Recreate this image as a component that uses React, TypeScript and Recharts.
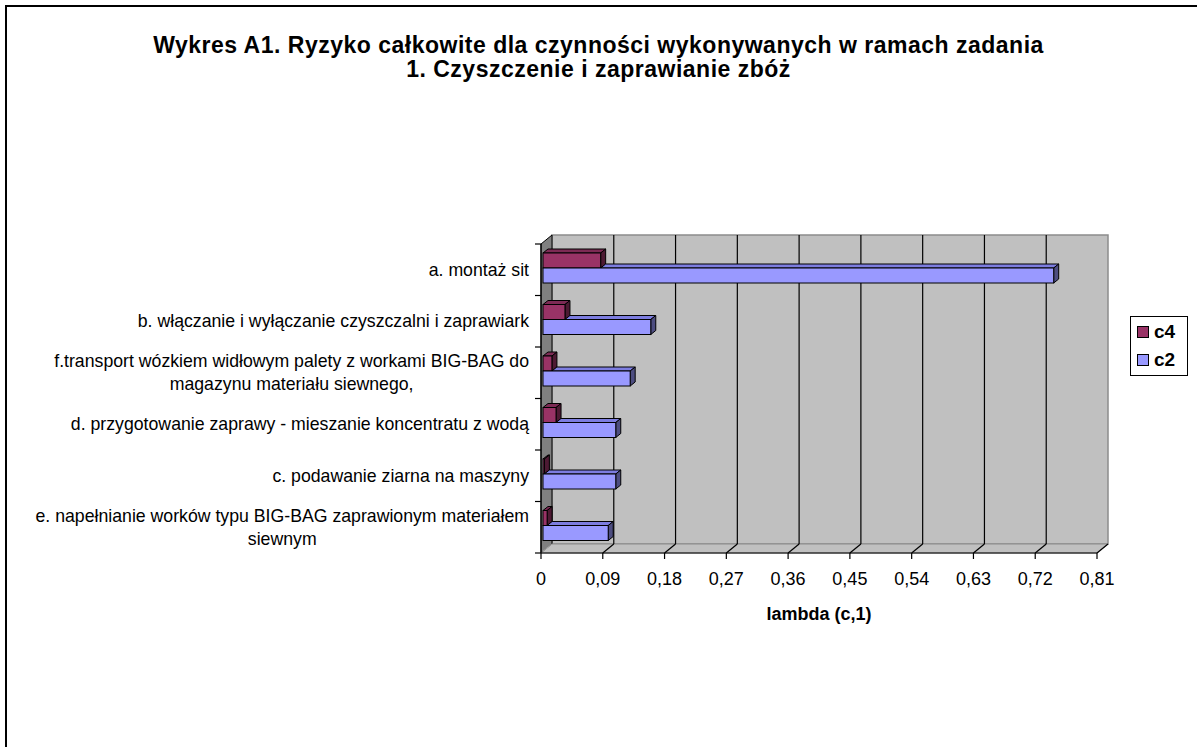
import React from 'react';
import { BarChart, Bar, XAxis, YAxis, ReferenceArea, Label } from 'recharts';

const categories = [
  'a. montaż sit',
  'b. włączanie i wyłączanie czyszczalni i zaprawiark',
  'f.transport wózkiem widłowym palety z workami BIG-BAG do\nmagazynu materiału siewnego,',
  'd. przygotowanie zaprawy - mieszanie koncentratu z wodą',
  'c. podawanie ziarna na maszyny',
  'e. napełnianie worków typu BIG-BAG zaprawionym materiałem\nsiewnym',
];
const c4Values = [0.084, 0.032, 0.013, 0.019, 0.002, 0.006];
const c2Values = [0.744, 0.157, 0.127, 0.106, 0.106, 0.095];
const xTicks = [0, 0.09, 0.18, 0.27, 0.36, 0.45, 0.54, 0.63, 0.72, 0.81];
const titleLines = [
  'Wykres A1. Ryzyko całkowite dla czynności wykonywanych w ramach zadania',
  '1. Czyszczenie i zaprawianie zbóż',
];
const axisTitle = 'lambda (c,1)';
const series = [
  { key: 'c4', name: 'c4', front: '#993366', top: '#7d2a54', side: '#4d1a33' },
  { key: 'c2', name: 'c2', front: '#9999ff', top: '#7d7de0', side: '#4d4d80' },
];

const data = categories.map((name, i) => ({ name, c4: c4Values[i], c2: c2Values[i] }));

const FONT = '"Liberation Sans", Arial, sans-serif';
const DX = 11;
const DY = 9;
const BDX = 5;
const BDY = 4;
const SHIFT_X = 2;
const SHIFT_Y = -2;
const X_MAX = xTicks[xTicks.length - 1];

const fmt = (v: number) => (v === 0 ? '0' : v.toFixed(2).replace('.', ','));

let measureCtx: CanvasRenderingContext2D | null = null;
const measure = (text: string, font: string) => {
  if (!measureCtx) {
    const c = document.createElement('canvas');
    measureCtx = c.getContext('2d');
  }
  if (!measureCtx) return text.length * 8;
  measureCtx.font = font;
  return measureCtx.measureText(text).width;
};

const CAT_SIZE = 17.7;

const CategoryTick = (props: any) => {
  const { x, y, payload } = props;
  const lines = String(payload.value).split('\n');
  if (lines.length === 1) {
    return (
      <text x={x} y={y} dy="0.35em" textAnchor="end" fontSize={CAT_SIZE} fontFamily={FONT} fill="#000">
        {lines[0]}
      </text>
    );
  }
  const widths = lines.map((l) => measure(l, `${CAT_SIZE}px "Liberation Sans"`));
  const maxW = Math.max(...widths);
  const cx = x - maxW / 2;
  const lh = 23;
  const start = y - ((lines.length - 1) * lh) / 2;
  return (
    <g>
      {lines.map((l, i) => (
        <text key={i} x={cx} y={start + i * lh} dy="0.35em" textAnchor="middle" fontSize={CAT_SIZE} fontFamily={FONT} fill="#000">
          {l}
        </text>
      ))}
    </g>
  );
};

const make3DBar = (key: string, front: string, top: string, side: string) => (props: any) => {
  const { x, y, width, height, payload } = props;
  if (height == null || width == null) return <g />;
  const w = Math.max(width, 0);
  const fx = x + SHIFT_X;
  const fy = y + SHIFT_Y;
  // the lower bar's top face is hidden behind the bar above it, up to where that bar ends
  let topStart = 0;
  if (key === 'c2' && payload && payload.c2 > 0) {
    topStart = Math.min(w, (w * payload.c4) / payload.c2);
  }
  return (
    <g>
      <polygon
        points={`${fx + topStart},${fy} ${fx + topStart + BDX},${fy - BDY} ${fx + w + BDX},${fy - BDY} ${fx + w},${fy}`}
        fill={top}
        stroke="#000"
        strokeWidth={1}
        strokeLinejoin="round"
      />
      <polygon
        points={`${fx + w},${fy} ${fx + w + BDX},${fy - BDY} ${fx + w + BDX},${fy + height - BDY} ${fx + w},${fy + height}`}
        fill={side}
        stroke="#000"
        strokeWidth={1}
        strokeLinejoin="round"
      />
      <rect x={fx} y={fy} width={w} height={height} fill={front} stroke="#000" strokeWidth={1} />
    </g>
  );
};

const Walls = (p: any) => {
  const { x, y, width, height } = p;
  const bottom = y + height;
  const right = x + width;
  const n = categories.length;
  const ticks = [];
  for (let i = 0; i <= n; i++) {
    const ty = y + (i * height) / n;
    ticks.push(<line key={`t${i}`} x1={x - 6} y1={ty} x2={x} y2={ty} stroke="#000" strokeWidth={1.2} />);
  }
  const grid = xTicks.map((t, i) => {
    const gx = x + (width * t) / X_MAX;
    return (
      <g key={`g${i}`}>
        {i !== 0 && i !== xTicks.length - 1 && (
          <line x1={gx + DX} y1={y - DY} x2={gx + DX} y2={bottom - DY} stroke="#000" strokeWidth={1.2} />
        )}
        {i !== 0 && <line x1={gx} y1={bottom} x2={gx + DX} y2={bottom - DY} stroke="#000" strokeWidth={1.2} />}
      </g>
    );
  });
  return (
    <g>
      <polygon
        points={`${x + DX},${y - DY} ${right + DX},${y - DY} ${right + DX},${bottom - DY} ${x + DX},${bottom - DY}`}
        fill="#c0c0c0"
        stroke="#8c8c8c"
        strokeWidth={1.5}
      />
      <polygon
        points={`${x},${y} ${x + DX},${y - DY} ${x + DX},${bottom - DY} ${x},${bottom}`}
        fill="#808080"
        stroke="#000"
        strokeWidth={1}
      />
      <polygon
        points={`${x},${bottom} ${x + DX},${bottom - DY} ${right + DX},${bottom - DY} ${right},${bottom}`}
        fill="#c0c0c0"
        stroke="#8c8c8c"
        strokeWidth={1}
      />
      <line x1={x + 2} y1={bottom - 2} x2={x + DX} y2={bottom - DY} stroke="#a0a0a0" strokeWidth={1} />
      {grid}
      {ticks}
    </g>
  );
};

export default function App() {
  return (
    <div
      style={{
        position: 'fixed',
        left: 0,
        top: 0,
        width: 1197,
        height: 747,
        overflow: 'hidden',
        background: '#fff',
      }}
    >
      <div
        style={{
          position: 'absolute',
          left: 5,
          top: 5,
          width: 1300,
          height: 900,
          borderLeft: '2px solid #000',
          borderTop: '2px solid #000',
        }}
      />
      <div
        style={{
          position: 'absolute',
          left: 0,
          top: 33,
          width: 1197,
          textAlign: 'center',
          fontFamily: FONT,
          fontWeight: 'bold',
          fontSize: 23,
          letterSpacing: '0.5px',
          lineHeight: '24px',
          color: '#000',
        }}
      >
        {titleLines.map((t, i) => (
          <div key={i}>{t}</div>
        ))}
      </div>
      <div style={{ position: 'absolute', left: 0, top: 0 }}>
        <BarChart
          width={1197}
          height={747}
          data={data}
          layout="vertical"
          margin={{ top: 244, right: 100, bottom: 114, left: 0 }}
          barGap={0}
          barSize={15}
        >
          <ReferenceArea x1={0} x2={X_MAX} shape={Walls} fill="none" stroke="none" ifOverflow="visible" />
          <XAxis
            type="number"
            domain={[0, X_MAX]}
            ticks={xTicks}
            tickFormatter={fmt}
            axisLine={{ stroke: '#000', strokeWidth: 1.2 }}
            tickLine={{ stroke: '#000', strokeWidth: 1.2 }}
            tickSize={6}
            tickMargin={13}
            height={80}
            tick={{ fontSize: 18, fontFamily: FONT, fill: '#000' }}
            interval={0}
            allowDataOverflow
          >
            <Label
              content={(p: any) => {
                const vb = p.viewBox || {};
                return (
                  <text
                    x={vb.x + vb.width / 2}
                    y={vb.y + 67}
                    textAnchor="middle"
                    fontSize={18}
                    fontWeight="bold"
                    fontFamily={FONT}
                    fill="#000"
                  >
                    {axisTitle}
                  </text>
                );
              }}
            />
          </XAxis>
          <YAxis
            type="category"
            dataKey="name"
            width={541}
            axisLine={{ stroke: '#000', strokeWidth: 1.2 }}
            tickLine={false}
            tickSize={6}
            tickMargin={6}
            tick={<CategoryTick />}
            interval={0}
          />
          {series.map((s) => (
            <Bar
              key={s.key}
              dataKey={s.key}
              name={s.name}
              fill={s.front}
              isAnimationActive={false}
              shape={make3DBar(s.key, s.front, s.top, s.side)}
            />
          ))}
        </BarChart>
      </div>
      <div
        style={{
          position: 'absolute',
          left: 1130,
          top: 316,
          width: 58,
          height: 60,
          boxSizing: 'border-box',
          border: '1.5px solid #000',
          background: '#fff',
          fontFamily: FONT,
          fontWeight: 'bold',
          fontSize: 19,
          color: '#000',
        }}
      >
        {series.map((s, i) => (
          <div
            key={s.key}
            style={{ position: 'absolute', left: 6, top: 5 + i * 28, height: 20, display: 'flex', alignItems: 'center' }}
          >
            <span
              style={{
                display: 'inline-block',
                width: 10,
                height: 10,
                background: s.front,
                border: '1px solid #000',
                marginRight: 5,
              }}
            />
            <span>{s.name}</span>
          </div>
        ))}
      </div>
    </div>
  );
}
